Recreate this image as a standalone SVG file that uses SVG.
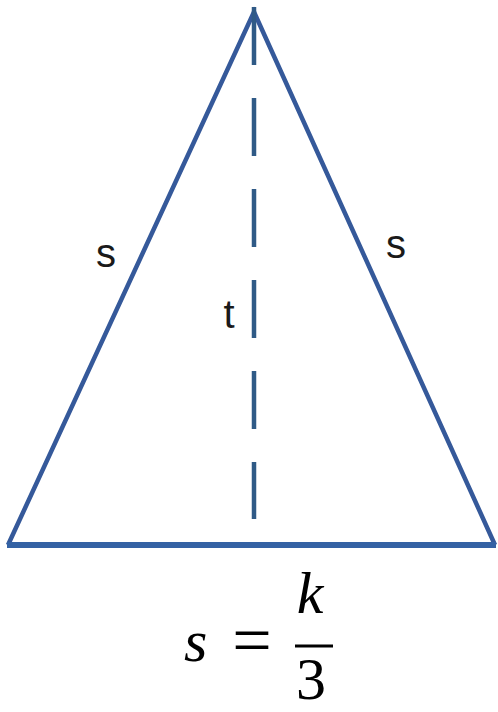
<svg xmlns="http://www.w3.org/2000/svg" width="498" height="712" viewBox="0 0 498 712">
<style>
.side{fill:none;stroke:#35599a;stroke-width:4.5;stroke-linejoin:miter}
.base{fill:none;stroke:#3462a4;stroke-width:6}
.height{stroke:#2f5a86;stroke-width:4.5;stroke-dasharray:58 33}
.lbl{font-family:"Liberation Sans",Arial,sans-serif;font-size:40px;fill:#1a1a1a;text-anchor:middle}
.math{font-family:"Liberation Serif","Times New Roman",serif;font-size:60px;fill:#000}
.it{font-style:italic}
</style>
<rect width="498" height="712" fill="#ffffff"/>
<g id="triangle">
<polyline class="side" points="8,545 254,12 495,545"/>
<line class="base" x1="7" y1="545" x2="496" y2="545"/>
</g>
<g id="connectors">
<line class="height" x1="254" y1="7" x2="254" y2="519"/>
</g>
<g id="labels">
<text class="lbl" x="106" y="267">s</text>
<text class="lbl" x="396" y="258">s</text>
<text class="lbl" x="229" y="328">t</text>
</g>
<g id="formula">
<text class="math it" x="184" y="661">s</text>
<text class="math" x="252" y="664" text-anchor="middle" style="font-size:70px">=</text>
<text class="math it" x="310" y="613" text-anchor="middle">k</text>
<line x1="295" y1="646" x2="333" y2="646" stroke="#000" stroke-width="3"/>
<text class="math" x="311" y="699" text-anchor="middle">3</text>
</g>
</svg>
